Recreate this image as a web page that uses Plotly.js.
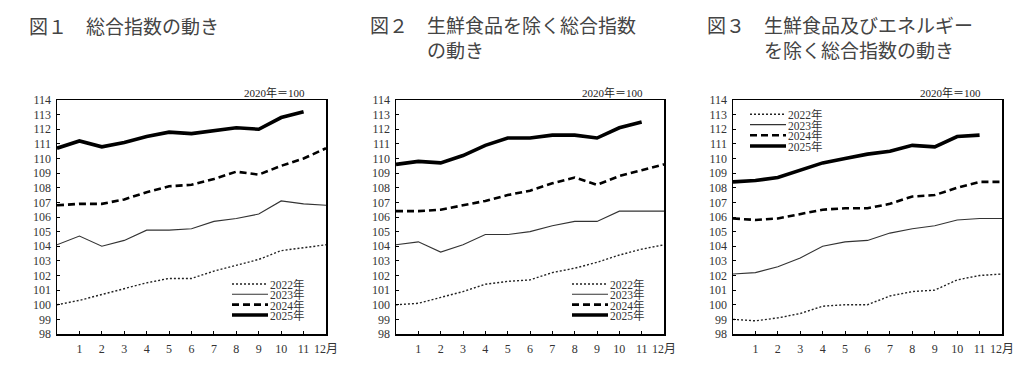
<!DOCTYPE html>
<html>
<head>
<meta charset="utf-8">
<script src="https://cdn.plot.ly/plotly-3.0.1.min.js"></script>
<style>html,body{margin:0;padding:0;background:#fff;}#chart{width:1023px;height:374px;}</style>
</head>
<body>
<div id="chart"></div>
<script>
// ---- data ----
const months = [0,1,2,3,4,5,6,7,8,9,10,11,12];
const tickVals = [1,2,3,4,5,6,7,8,9,10,11,12];
const tickText = ['1','2','3','4','5','6','7','8','9','10','11','12月'];
const years = ['2022年','2023年','2024年','2025年'];

const all2022 = [100.0,100.3,100.7,101.1,101.5,101.8,101.8,102.3,102.7,103.1,103.7,103.9,104.1];
const all2023 = [104.1,104.7,104.0,104.4,105.1,105.1,105.2,105.7,105.9,106.2,107.1,106.9,106.8];
const all2024 = [106.8,106.9,106.9,107.2,107.7,108.1,108.2,108.6,109.1,108.9,109.5,110.0,110.7];
const all2025 = [110.7,111.2,110.8,111.1,111.5,111.8,111.7,111.9,112.1,112.0,112.8,113.2];

const core2022 = [100.0,100.1,100.5,100.9,101.4,101.6,101.7,102.2,102.5,102.9,103.4,103.8,104.1];
const core2023 = [104.1,104.3,103.6,104.1,104.8,104.8,105.0,105.4,105.7,105.7,106.4,106.4,106.4];
const core2024 = [106.4,106.4,106.5,106.8,107.1,107.5,107.8,108.3,108.7,108.2,108.8,109.2,109.6];
const core2025 = [109.6,109.8,109.7,110.2,110.9,111.4,111.4,111.6,111.6,111.4,112.1,112.5];

const cc2022 = [99.0,98.9,99.1,99.4,99.9,100.0,100.0,100.6,100.9,101.0,101.7,102.0,102.1];
const cc2023 = [102.1,102.2,102.6,103.2,104.0,104.3,104.4,104.9,105.2,105.4,105.8,105.9,105.9];
const cc2024 = [105.9,105.8,105.9,106.2,106.5,106.6,106.6,106.9,107.4,107.5,108.0,108.4,108.4];
const cc2025 = [108.4,108.5,108.7,109.2,109.7,110.0,110.3,110.5,110.9,110.8,111.5,111.6];

const titles = [
  '図１　総合指数の動き',
  '図２　生鮮食品を除く総合指数<br>　　　の動き',
  '図３　生鮮食品及びエネルギー<br>　　　を除く総合指数の動き'
];
const baseNote = '2020年＝100';

// ---- styles ----
const W = 1023, H = 374;
const px = v => v / W;
const py = v => 1 - v / H;
const styles = [
  {color:'#222', width:1.4, dash:'2px,2px'},
  {color:'#333', width:1.1, dash:'solid'},
  {color:'#000', width:2.6, dash:'7px,4px'},
  {color:'#000', width:3.6, dash:'solid'}
];
const panels = [
  {series:[all2022,all2023,all2024,all2025], x0:57, x1:326, tx:27, ty:25, legX:232, legY:[284,294.3,304.6,315]},
  {series:[core2022,core2023,core2024,core2025], x0:396, x1:664, tx:368, ty:36.5, legX:572, legY:[284,294.3,304.6,315]},
  {series:[cc2022,cc2023,cc2024,cc2025], x0:733, x1:1002, tx:705, ty:36.5, legX:750, legY:[114.3,124.6,135.2,146]}
];
const yTop = 100, yBot = 334;

const traces = [];
const layout = {
  width: W, height: H,
  margin: {l:0, r:0, t:0, b:0},
  paper_bgcolor: '#fff', plot_bgcolor: '#fff',
  showlegend: false,
  annotations: [], shapes: []
};
const serif = '"Liberation Serif", "Noto Sans CJK JP", serif';
const tickFont = {family:serif, size:12, color:'#333'};
const cjk = '"Noto Sans CJK JP", sans-serif';

panels.forEach((p, i) => {
  const n = i === 0 ? '' : String(i + 1);
  const xa = 'x' + n, ya = 'y' + n;
  p.series.forEach((s, k) => {
    traces.push({
      x: months.slice(0, s.length), y: s, type: 'scatter', mode: 'lines',
      name: years[k], xaxis: xa, yaxis: ya,
      line: {color: styles[k].color, width: styles[k].width, dash: styles[k].dash},
      hoverinfo: 'skip'
    });
  });
  layout['xaxis' + n] = {
    domain: [px(p.x0), px(p.x1)], anchor: ya, range: [0, 12],
    tickmode: 'array', tickvals: tickVals, ticktext: tickText,
    ticks: 'inside', ticklen: 3, tickwidth: 1, tickcolor: '#000',
    showline: true, mirror: true, linecolor: '#000', linewidth: 1.5,
    showgrid: false, zeroline: false, tickfont: tickFont, ticklabelstandoff: 3,
    fixedrange: true
  };
  layout['yaxis' + n] = {
    domain: [py(yBot), py(yTop)], anchor: xa, range: [98, 114], dtick: 1, tick0: 98,
    ticks: 'inside', ticklen: 3, tickwidth: 1, tickcolor: '#000',
    showline: true, mirror: true, linecolor: '#000', linewidth: 1.5,
    showgrid: false, zeroline: false, tickfont: tickFont, ticklabelstandoff: 2,
    fixedrange: true
  };
  // title
  layout.annotations.push({
    xref:'paper', yref:'paper', x: px(p.tx), y: py(p.ty), xanchor:'left', yanchor:'middle',
    align:'left', text: titles[i], showarrow:false, font:{family:cjk, size:19, color:'#444'}
  });
  // base note
  layout.annotations.push({
    xref:'paper', yref:'paper', x: px(p.x1 - 19), y: py(92.5), xanchor:'right', yanchor:'middle',
    text: baseNote, showarrow:false, font:{family:serif, size:11, color:'#222'}
  });
  // legend
  years.forEach((yr, k) => {
    layout.shapes.push({
      type:'line', xref:'paper', yref:'paper',
      x0: px(p.legX), x1: px(p.legX + 36), y0: py(p.legY[k]), y1: py(p.legY[k]),
      line: {color: styles[k].color, width: styles[k].width, dash: styles[k].dash}
    });
    layout.annotations.push({
      xref:'paper', yref:'paper', x: px(p.legX + 37), y: py(p.legY[k] + 0.5), xanchor:'left', yanchor:'middle',
      text: yr, showarrow:false, borderpad:0,
      font:{family:serif, size:11.5, color:'#333'}
    });
  });
});

Plotly.newPlot('chart', traces, layout, {displayModeBar:false, staticPlot:true});
</script>
</body>
</html>
